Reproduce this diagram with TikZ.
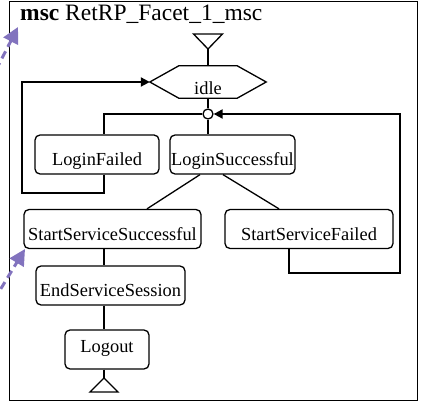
\documentclass[tikz,border=0pt]{standalone}
\usepackage{fontspec}
\setmainfont{Liberation Serif}
\usetikzlibrary{arrows.meta}
\definecolor{flowpurple}{RGB}{130,115,190}

\begin{document}
\begin{tikzpicture}[x=1pt,y=-1pt,
  lbl/.style={font=\fontsize{18.4}{20}\selectfont},
  statebox/.style={lbl, draw, line width=1.3pt, rounded corners=5pt,
    inner xsep=0pt, inner ysep=0pt, text height=23pt, text depth=0pt,
    minimum height=39pt},
  wire/.style={line width=1.3pt},
  loopwire/.style={line width=2pt},
  tip/.style={-{Triangle[length=9pt,width=9pt]}},
  hint/.style={flowpurple, line width=3pt, dash pattern=on 8pt off 5pt,
    -{Triangle[length=16pt,width=16pt]}}
]
\useasboundingbox (0,0) rectangle (421,403);

% frame and heading
\draw[line width=1pt] (9,1.5) rectangle (417.5,401);
\node[anchor=base west, font=\fontsize{23.5}{26}\selectfont, inner sep=0pt]
  (title) at (20,21) {\textbf{msc} RetRP\_Facet\_1\_msc};

% helper points
\coordinate (start) at (208,49);
\coordinate (spine) at (104,0);
\coordinate (loopL) at (22,193);
\coordinate (loopR) at (400,273);
\coordinate (endtip) at (104,378);

% condition hexagon
\node[lbl, minimum width=58pt, minimum height=32pt, inner sep=0pt,
  text height=26pt, text depth=0pt] (idle) at (208,82) {idle};
\coordinate (idleL) at ([xshift=-29pt]idle.west);
\coordinate (idleR) at ([xshift=29pt]idle.east);
\draw[wire] (idle.north west) -- (idle.north east) -- (idleR)
  -- (idle.south east) -- (idle.south west) -- (idleL) -- cycle;

% junction
\node[draw, wire, circle, minimum size=10pt, inner sep=0pt] (junc) at (208,114) {};

% states
\node[statebox, minimum width=124pt] (lf)  at (97,154.5)    {LoginFailed};
\node[statebox, minimum width=125pt] (ls)  at (232.5,154.5) {LoginSuccessful};
\node[statebox, minimum width=177pt] (sss) at (112.5,229)   {StartServiceSuccessful};
\node[statebox, minimum width=168pt] (ssf) at (309,229)     {StartServiceFailed};
\node[statebox, minimum width=149pt] (ess) at (110.5,285.5) {EndServiceSession};
\node[statebox, minimum width=84pt, text height=7pt] (lo) at (107,349.5) {Logout};

% start and end markers
\draw[wire] (start) -- ++(-14.5,-15) -- ++(29,0) -- cycle;
\draw[wire] (endtip) -- ++(-14,14) -- ++(28,0) -- cycle;

% connections
\draw[wire] (start) -- (idle.south |- idle.north);
\draw[wire] (idle.south) -- (junc.north);
\draw[wire] (junc.west) -| (lf.north -| spine);
\draw[wire] (junc.south) -- (junc.south |- ls.north);
\draw[wire] ([xshift=-32.5pt]ls.south) -- ([xshift=34.5pt]sss.north);
\draw[wire] ([xshift=-9.5pt]ls.south) -- ([xshift=-30pt]ssf.north);
\draw[wire] (sss.south -| spine) -- (ess.north -| spine);
\draw[wire] (ess.south -| spine) -- (lo.north -| spine);
\draw[wire] (lo.south -| spine) -- (endtip);

% loops back
\draw[loopwire, tip] (lf.south -| spine) |- (loopL) |- (idleL);
\draw[loopwire, tip] ([xshift=-20pt]ssf.south) |- (loopR) |- (junc.east);

% highlight arrows
\coordinate (hintA) at (-4,70);
\coordinate (hintB) at (-6,300);
\coordinate (hintAt) at (18,27);
\coordinate (hintBt) at (25,249);
\draw[hint] (hintA) -- (hintAt);
\draw[hint] (hintB) -- (hintBt);
\end{tikzpicture}
\end{document}
